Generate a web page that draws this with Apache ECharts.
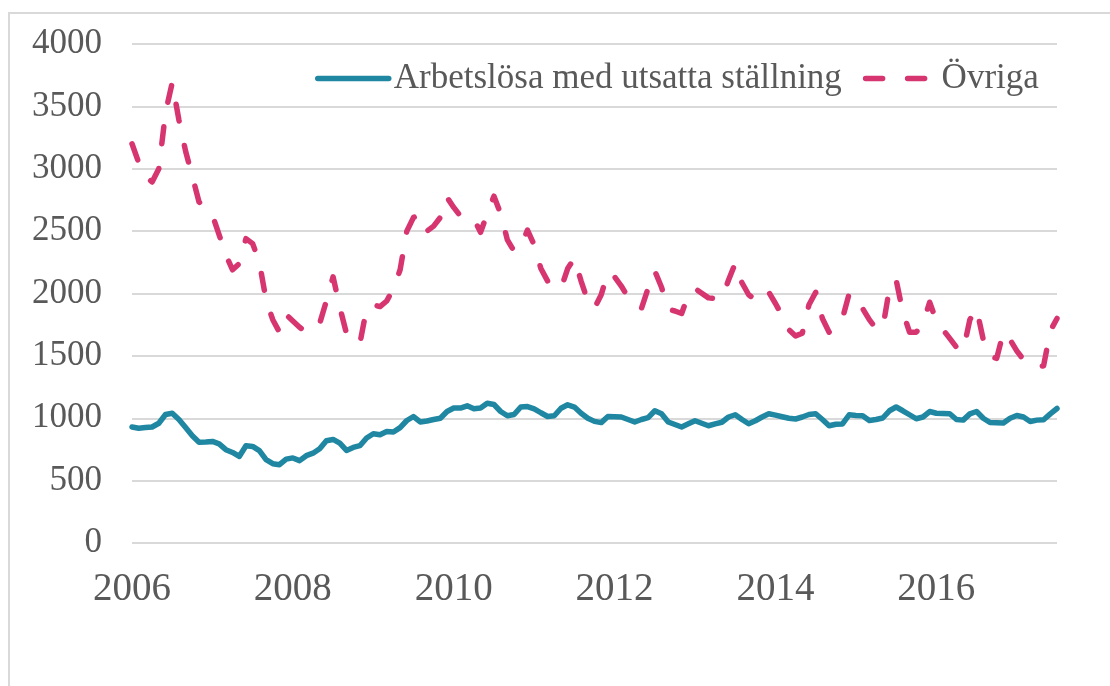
<!DOCTYPE html>
<html lang="sv">
<head>
  <meta charset="UTF-8" />
  <title>Arbetslösa</title>
  <script src="https://cdn.jsdelivr.net/npm/echarts@6/dist/echarts.min.js"></script>
  <style>
    html, body { margin: 0; padding: 0; background: #fff; }
    #frame {
      position: absolute; left: 8px; top: 12px;
      width: 1300px; height: 900px;
      border-left: 2px solid #d9d9d9; border-top: 2px solid #d9d9d9;
    }
    #chart { position: absolute; left: 0; top: 0; width: 1110px; height: 686px; }
  </style>
</head>
<body>
  <div id="frame"></div>
  <div id="chart"></div>
<script>
  // månadsdata jan 2006 - jul 2017
  var startYear = 2006;
  var monthCount = 139;
  var months = [];
  for (var i = 0; i < monthCount; i++) {
    var y = startYear + Math.floor(i / 12);
    var m = (i % 12) + 1;
    months.push(y + '-' + (m < 10 ? '0' + m : m));
  }

  var seriesNames = ['Arbetslösa med utsatta ställning', 'Övriga'];

  var utsatta = [
    930, 920, 925, 930, 960, 1030, 1040, 990, 925, 860, 808, 810,
    814, 795, 748, 726, 694, 780, 774, 740, 668, 636, 628, 672,
    682, 660, 700, 720, 755, 820, 830, 800, 742, 766, 780, 842,
    876, 868, 894, 890, 925, 982, 1014, 970, 978, 990, 1000, 1054,
    1082, 1082, 1100, 1076, 1082, 1120, 1110, 1054, 1020, 1030, 1090, 1094,
    1076, 1044, 1014, 1020, 1080, 1108, 1090, 1040, 1000, 975, 965, 1014,
    1012, 1010, 990, 970, 990, 1005, 1060, 1036, 970, 950, 930, 955,
    980, 960, 940, 955, 968, 1010, 1028, 990, 956, 980, 1010, 1036,
    1025, 1012, 1000, 994, 1010, 1030, 1036, 990, 940, 952, 954, 1028,
    1022, 1020, 982, 990, 1002, 1060, 1090, 1060, 1028, 996, 1010, 1054,
    1040, 1038, 1036, 990, 985, 1035, 1054, 1000, 966, 964, 962, 1000,
    1022, 1010, 974, 985, 988, 1035, 1078
  ];

  var ovriga = [
    3200, 3050, 2940, 2894, 3000, 3450, 3690, 3390, 3140, 2940, 2734, 2680,
    2628, 2470, 2308, 2190, 2240, 2440, 2400, 2250, 1950, 1790, 1690, 1830,
    1780, 1730, 1690, 1720, 1760, 1940, 2134, 1890, 1680, 1640, 1600, 1880,
    1910, 1895, 1940, 2040, 2190, 2500, 2610, 2628, 2500, 2540, 2610, 2770,
    2690, 2620, 2614, 2600, 2490, 2640, 2780, 2640, 2430, 2340, 2380, 2508,
    2390, 2200, 2100, 2060, 2040, 2200, 2282, 2100, 1940, 1882, 1990, 2170,
    2134, 2060, 1970, 1940, 1880, 2042, 2180, 2050, 1874, 1860, 1840, 1990,
    2040, 2002, 1965, 1960, 1962, 2108, 2242, 2086, 1990, 1950, 2020, 2010,
    1920, 1820, 1710, 1660, 1682, 1910, 2010, 1800, 1690, 1750, 1800, 2000,
    1970, 1880, 1790, 1720, 1720, 2040, 2110, 1850, 1690, 1690, 1760, 1930,
    1780, 1710, 1640, 1570, 1540, 1790, 1880, 1630, 1494, 1480, 1690, 1630,
    1540, 1470, 1430, 1410, 1420, 1700, 1800
  ];

  var textColor = '#595959';
  var font = 'Liberation Serif';

  var myChart = echarts.init(document.getElementById('chart'));

  var option = {
    animation: false,
    grid: { left: 132, right: 53, top: 44, bottom: 143 },
    legend: {
      left: 310,
      top: 56,
      itemWidth: 71,
      itemHeight: 14,
      itemGap: 21,
      selectedMode: false,
      itemStyle: { opacity: 0 },
      lineStyle: { width: 5.5, cap: 'round' },
      textStyle: { fontFamily: font, fontSize: 35, color: textColor },
      data: seriesNames
    },
    xAxis: {
      type: 'category',
      data: months,
      boundaryGap: false,
      axisLine: { show: false },
      axisTick: { show: false },
      axisLabel: {
        interval: function (index) { return index % 24 === 0; },
        formatter: function (v) { return v.slice(0, 4); },
        fontFamily: font,
        fontSize: 39,
        color: textColor,
        margin: 27
      }
    },
    yAxis: {
      type: 'value',
      min: 0,
      max: 4000,
      interval: 500,
      axisLine: { show: false },
      axisTick: { show: false },
      splitLine: { lineStyle: { color: '#d9d9d9', width: 2 } },
      axisLabel: {
        formatter: function (v) { return String(v); },
        fontFamily: font,
        fontSize: 35,
        color: textColor,
        margin: 30
      }
    },
    series: [
      {
        name: seriesNames[0],
        type: 'line',
        data: utsatta,
        symbol: 'none',
        color: '#1f87a2',
        lineStyle: { width: 5.5, color: '#1f87a2', cap: 'round', join: 'round' }
      },
      {
        name: seriesNames[1],
        type: 'line',
        data: ovriga,
        symbol: 'none',
        color: '#d6356f',
        lineStyle: { width: 5.5, color: '#d6356f', type: [17, 25], cap: 'round', join: 'round' }
      }
    ]
  };

  myChart.setOption(option);
</script>
</body>
</html>
